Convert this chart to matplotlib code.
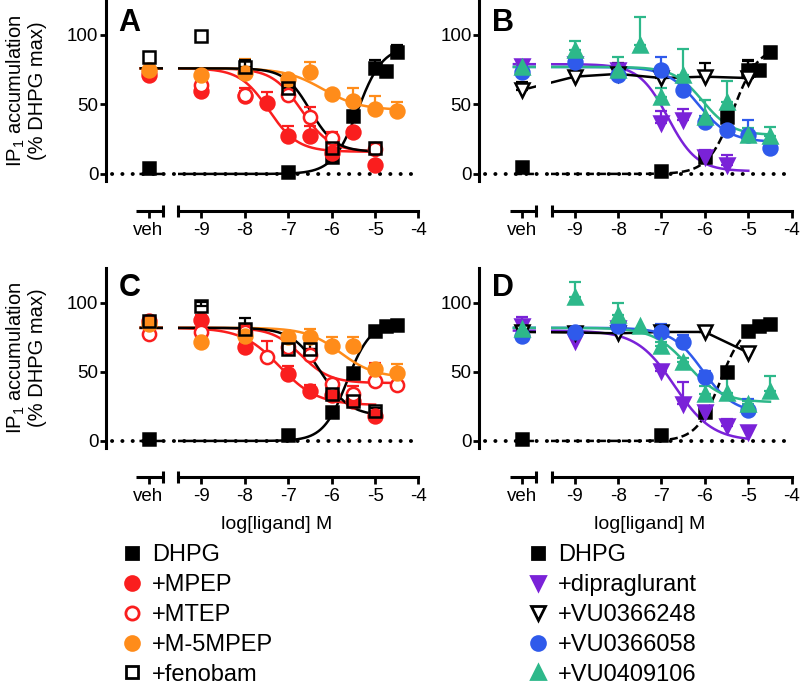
import numpy as np
import matplotlib

matplotlib.use("Agg")
import matplotlib.pyplot as plt
from matplotlib import font_manager
from matplotlib.lines import Line2D
from matplotlib.path import Path

nan = np.nan

# x categories: vehicle first, then log[ligand] (M)
DOSES = ["veh", -9, -8, -7.5, -7, -6.5, -6, -5.5, -5, -4.75, -4.5]
XTICKS = [-9, -8, -7, -6, -5, -4]
YTICKS = [0, 50, 100]

# ---- panel A : values, upper error, fit = [bottom, top, logEC50, hill, last dose]
A_DHPG = [4, nan, nan, nan, 1.5, nan, 12, 42, 76, 74, 88]
A_DHPG_ERR = [0, 0, 0, 0, 0, 0, 2, 3, 6, 0, 5]
A_DHPG_FIT = [0, 92, -5.4, 1.5, -4.5]
A_MPEP = [71, 60, 56, 51, 27, 27, 15, 30, 6.5, nan, nan]
A_MPEP_ERR = [3, 3, 6, 8, 7.5, 7.5, 3, 3, 0, 0, 0]
A_MPEP_FIT = [16, 76, -7.45, -1.3, -5]
A_MTEP = [73, 64, 57, nan, 57, 41, 26, nan, 18, nan, nan]
A_MTEP_ERR = [2, 2, 3, 0, 3, 7, 4, 0, 3, 0, 0]
A_MTEP_FIT = [16, 76, -6.7, -1.3, -5]
A_M5MPEP = [75, 71, 72.5, nan, 68, 73.5, 57.5, 52.5, 47, nan, 45]
A_M5MPEP_ERR = [2, 2, 10, 0, 3, 7, 2, 9, 9, 0, 7]
A_M5MPEP_FIT = [46, 76, -6.2, -1.0, -4.5]
A_FENO = [84, 99, 77, nan, 62, nan, 19, nan, 19, nan, nan]
A_FENO_ERR = [0, 0, 5, 0, 9, 0, 5, 0, 3, 0, 0]
A_FENO_FIT = [16, 76, -6.5, -1.5, -5]

# ---- panel B
B_DHPG = [5, nan, nan, nan, 2.4, nan, 12.5, 41, 75, 75, 87.5]
B_DHPG_ERR = [0, 0, 0, 0, 0, 0, 3, 4, 6, 0, 4]
B_DHPG_FIT = [0, 92, -5.35, 1.5, -4.5]
B_DIPRA = [78, 79, 75, nan, 36.5, 39, 12.5, 6.5, nan, nan, nan]
B_DIPRA_ERR = [1, 0, 0, 0, 8.5, 8, 4.5, 7.5, 0, 0, 0]
B_DIPRA_FIT = [2, 79, -6.85, -1.3, -5]
B_VU248 = [60.4, 70, 72, nan, 69, nan, 70, nan, 69, nan, nan]
B_VU248_ERR = [5.6, 0, 8, 0, 7, 0, 10, 0, 13, 0, 0]
B_VU058 = [73.6, 80.8, 71, nan, 74.8, 60.4, 37.6, 31.7, 28, nan, 18.5]
B_VU058_ERR = [3, 4, 2, 0, 9, 6, 4, 5, 11, 0, 0]
B_VU058_FIT = [23, 77, -6.15, -1.2, -4.5]
B_VU106 = [77, 89, 75, 93, 55.6, 71, 41, 52, 28, nan, 27]
B_VU106_ERR = [2, 7, 9, 20, 6, 19, 12, 15, 5, 0, 7]
B_VU106_FIT = [28, 77, -6.05, -1.3, -4.5]

# ---- panel C
C_DHPG = [1.4, nan, nan, nan, 4, nan, 21, 49, 80, 83, 84]
C_DHPG_ERR = [0, 0, 0, 0, 0, 0, 0, 3, 2, 0, 0]
C_DHPG_FIT = [0, 86, -5.65, 1.6, -4.5]
C_MPEP = [87, 88, 68, nan, 48.5, 36.5, 33, 29, 18, nan, nan]
C_MPEP_ERR = [2, 3, 3, 0, 6, 4, 3, 3, 2, 0, 0]
C_MPEP_FIT = [26, 82, -7.2, -1.0, -5]
C_MTEP = [77.5, 78.7, 78.7, 60.6, 68, 62, 41, 34, 43.7, nan, 40.6]
C_MTEP_ERR = [3, 3, 5, 12, 4, 5, 3, 6, 13, 0, 2]
C_MTEP_FIT = [42, 82, -6.7, -1.3, -4.5]
C_M5MPEP = [85, 71.5, 76, nan, 75, 75, 69, 69, 52, nan, 49]
C_M5MPEP_ERR = [2, 3, 3, 0, 3, 6, 6, 6, 3, 0, 7]
C_M5MPEP_FIT = [46, 82, -5.8, -1.1, -4.5]
C_FENO = [87, 98, 81, nan, 67, 67, 34, 29, 22, nan, nan]
C_FENO_ERR = [3, 3, 8, 0, 11, 4, 3, 3, 2, 0, 0]
C_FENO_FIT = [18, 82, -6.25, -1.3, -5]

# ---- panel D
D_DHPG = [1.4, nan, nan, nan, 4.3, nan, 21, 50, 80, 83.6, 85]
D_DHPG_ERR = [0, 0, 0, 0, 0, 0, 0, 3, 2, 0, 0]
D_DHPG_FIT = [0, 86, -5.65, 1.6, -4.5]
D_DIPRA = [83, 72.7, 82, nan, 51, 26.8, 20.8, 11, 6.3, nan, nan]
D_DIPRA_ERR = [7, 0, 0, 0, 2, 16, 2, 5, 0, 0, 0]
D_DIPRA_FIT = [0, 80, -6.7, -1.0, -5]
D_VU248 = [79, 78.6, 78, nan, 79, nan, 79, nan, 64, nan, nan]
D_VU248_ERR = [3, 0, 0, 0, 3, 0, 3, 0, 0, 0, 0]
D_VU058 = [76.3, 78.7, 83.6, nan, 78.7, 71.5, 46, nan, 22.7, nan, nan]
D_VU058_ERR = [6, 0, 3, 0, 6, 5, 5, 0, 8, 0, 0]
D_VU058_FIT = [20, 82, -6.05, -1.2, -5]
D_VU106 = [81, 104, 91, 83.6, 69, 57, 34, 35, 26.8, nan, 36.5]
D_VU106_ERR = [7, 11, 9, 0, 3, 3, 6, 12, 2, 0, 10.5]
D_VU106_FIT = [28, 82, -6.4, -1.1, -4.5]

LEFT_NAMES = ["DHPG", "+MPEP", "+MTEP", "+M-5MPEP", "+fenobam"]
RIGHT_NAMES = ["DHPG", "+dipraglurant", "+VU0366248", "+VU0366058", "+VU0409106"]

RED = "#FA1E1E"
ORANGE = "#FF8C1A"
PURPLE = "#7A22D8"
BLUE = "#2F5AEB"
GREEN = "#2DB88A"

STYLE = {
    "DHPG": dict(color="black", marker="s", ms=8.5, mfc="black"),
    "+MPEP": dict(color=RED, marker="o", ms=10, mfc=RED),
    "+MTEP": dict(color=RED, marker="o", ms=9.5, mfc="white"),
    "+M-5MPEP": dict(color=ORANGE, marker="o", ms=10, mfc=ORANGE),
    "+fenobam": dict(color="black", marker="s", ms=9, mfc="none"),
    "+dipraglurant": dict(color=PURPLE, marker="v", ms=10, mfc=PURPLE),
    "+VU0366248": dict(color="black", marker="v", ms=10, mfc="white"),
    "+VU0366058": dict(color=BLUE, marker="o", ms=10, mfc=BLUE),
    "+VU0409106": dict(color=GREEN, marker="^", ms=10, mfc=GREEN),
}

# layout
VEH_POS = -10.22
XLIM = (-11.2, -4.0)
YLIM = (-5, 125)
CURVE_START = -10.4
GAP = (-9.88, -9.55)
AX_W = 0.3906
LEFTS = [0.1325, 0.599]
ROWS = [(0.7355, 0.2642, 0.6915, 0.957), (0.3452, 0.2623, 0.3026, 0.975)]
LW = 1.8

names = {f.name for f in font_manager.fontManager.ttflist}
plt.rcParams["font.family"] = ["Liberation Sans", "DejaVu Sans"]
plt.rcParams["mathtext.fontset"] = "custom"
plt.rcParams["mathtext.rm"] = "Liberation Sans"
plt.rcParams["mathtext.default"] = "regular"
if "Liberation Sans Narrow" in names:
    XLABEL_FONT = dict(family="Liberation Sans Narrow", size=16.5)
else:
    XLABEL_FONT = dict(family="Liberation Sans", size=14)


def sigmoid(x, bottom, top, log_ec50, hill):
    return bottom + (top - bottom) / (1 + 10 ** ((log_ec50 - x) * hill))


def gap_clip_path():
    """Two rectangles either side of the axis break."""
    lo, hi = GAP
    verts = [(-20, -50), (lo, -50), (lo, 300), (-20, 300), (-20, -50),
             (hi, -50), (0, -50), (0, 300), (hi, 300), (hi, -50)]
    codes = [Path.MOVETO, Path.LINETO, Path.LINETO, Path.LINETO, Path.CLOSEPOLY] * 2
    return Path(verts, codes)


def draw_series(ax, name, values, errors, fit, dashed=False):
    st = STYLE[name]
    xs = np.array([VEH_POS] + DOSES[1:], dtype=float)
    vals = np.array(values, dtype=float)
    errs = np.array(errors, dtype=float)
    ok = ~np.isnan(vals)

    if fit is not None:
        xc = np.linspace(CURVE_START, fit[4], 400)
        (line,) = ax.plot(xc, sigmoid(xc, *fit[:4]), color=st["color"], lw=LW, zorder=2)
    else:
        (line,) = ax.plot(xs[ok], vals[ok], color=st["color"], lw=LW, zorder=2)
    if dashed:
        line.set_linestyle((0, (3.2, 1.6)))
    line.set_clip_path(gap_clip_path(), ax.transData)

    has_err = ok & (errs > 0)
    if has_err.any():
        ax.errorbar(xs[has_err], vals[has_err],
                    yerr=[np.zeros(has_err.sum()), errs[has_err]],
                    fmt="none", ecolor=st["color"], elinewidth=1.6,
                    capsize=4.6, capthick=1.6, zorder=4)
    ax.plot(xs[ok], vals[ok], ls="none", marker=st["marker"], ms=st["ms"],
            mfc=st["mfc"], mec=st["color"], mew=1.8, zorder=5)


def setup_axes(ax, letter, letter_y, ylabel):
    ax.set_xlim(*XLIM)
    ax.set_ylim(*YLIM)
    for side in ["top", "right", "bottom"]:
        ax.spines[side].set_visible(False)
    ax.spines["left"].set_linewidth(2.2)
    ax.set_xticks([])
    ax.set_yticks(YTICKS, [str(t) for t in YTICKS])
    ax.tick_params(axis="y", length=4.5, width=2, labelsize=13.5, pad=1)
    ax.axhline(0, xmin=0.02, xmax=0.99, color="black", lw=2.8,
               ls=(0, (0.05, 2.6)), dash_capstyle="round", zorder=3)
    ax.text(0.04, letter_y, letter, transform=ax.transAxes, fontsize=22,
            fontweight="bold", va="top", ha="left")
    if ylabel:
        ax.set_ylabel("IP$_1$ accumulation\n(% DHPG max)", fontsize=14.5,
                      linespacing=1.05)
        ax.yaxis.set_label_coords(-0.19, 0.5)


def draw_xaxis(fig, left, y):
    xa = fig.add_axes([left, y, AX_W, 0.001])
    xa.set_xlim(*XLIM)
    xa.set_ylim(0, 1)
    xa.patch.set_visible(False)
    for side in ["top", "right", "left"]:
        xa.spines[side].set_visible(False)
    xa.spines["bottom"].set_bounds(GAP[1] + 0.02, -4)
    xa.spines["bottom"].set_linewidth(2.2)
    xa.set_yticks([])
    xa.set_xticks([VEH_POS] + XTICKS, ["veh"] + [str(t) for t in XTICKS])
    xa.tick_params(axis="x", length=5, width=2, labelsize=13.5, pad=3)
    xa.plot([-10.5, GAP[0]], [0, 0], color="black", lw=2.2,
            solid_capstyle="butt", clip_on=False)
    xa.plot([GAP[0], GAP[1] + 0.02], [0, 0], ls="none", marker="|", ms=8,
            mew=2.2, color="black", clip_on=False)
    return xa


panels = [
    ("A", [("DHPG", A_DHPG, A_DHPG_ERR, A_DHPG_FIT),
           ("+MPEP", A_MPEP, A_MPEP_ERR, A_MPEP_FIT),
           ("+MTEP", A_MTEP, A_MTEP_ERR, A_MTEP_FIT),
           ("+M-5MPEP", A_M5MPEP, A_M5MPEP_ERR, A_M5MPEP_FIT),
           ("+fenobam", A_FENO, A_FENO_ERR, A_FENO_FIT)], False),
    ("B", [("DHPG", B_DHPG, B_DHPG_ERR, B_DHPG_FIT),
           ("+dipraglurant", B_DIPRA, B_DIPRA_ERR, B_DIPRA_FIT),
           ("+VU0366248", B_VU248, B_VU248_ERR, None),
           ("+VU0366058", B_VU058, B_VU058_ERR, B_VU058_FIT),
           ("+VU0409106", B_VU106, B_VU106_ERR, B_VU106_FIT)], True),
    ("C", [("DHPG", C_DHPG, C_DHPG_ERR, C_DHPG_FIT),
           ("+MPEP", C_MPEP, C_MPEP_ERR, C_MPEP_FIT),
           ("+MTEP", C_MTEP, C_MTEP_ERR, C_MTEP_FIT),
           ("+M-5MPEP", C_M5MPEP, C_M5MPEP_ERR, C_M5MPEP_FIT),
           ("+fenobam", C_FENO, C_FENO_ERR, C_FENO_FIT)], False),
    ("D", [("DHPG", D_DHPG, D_DHPG_ERR, D_DHPG_FIT),
           ("+dipraglurant", D_DIPRA, D_DIPRA_ERR, D_DIPRA_FIT),
           ("+VU0366248", D_VU248, D_VU248_ERR, None),
           ("+VU0366058", D_VU058, D_VU058_ERR, D_VU058_FIT),
           ("+VU0409106", D_VU106, D_VU106_ERR, D_VU106_FIT)], True),
]

fig = plt.figure(figsize=(8, 6.84), dpi=100)

for index, (letter, entries, dashed_dhpg) in enumerate(panels):
    row, col = divmod(index, 2)
    bottom, height, xaxis_y, letter_y = ROWS[row]
    left = LEFTS[col]
    ax = fig.add_axes([left, bottom, AX_W, height])
    setup_axes(ax, letter, letter_y, ylabel=(col == 0))
    for name, values, errors, fit in entries:
        draw_series(ax, name, values, errors, fit,
                    dashed=(dashed_dhpg and name == "DHPG"))
    draw_xaxis(fig, left, xaxis_y)
    if row == 1:
        label_x = left + AX_W * (-7.27 - XLIM[0]) / (XLIM[1] - XLIM[0])
        fig.text(label_x, 0.2325, "log[ligand] M", ha="center", va="center",
                 **XLABEL_FONT)


def legend_handles(series_names):
    handles = []
    for name in series_names:
        st = STYLE[name]
        handles.append(Line2D([], [], ls="none", marker=st["marker"],
                              ms=st["ms"], mfc=st["mfc"], mec=st["color"],
                              mew=2))
    return handles


for legend_x, series_names in [(0.153, LEFT_NAMES), (0.661, RIGHT_NAMES)]:
    fig.legend(legend_handles(series_names), series_names, loc="upper left",
               bbox_to_anchor=(legend_x, 0.204), frameon=False, fontsize=17,
               handlelength=0.8, handletextpad=0.45, labelspacing=0.33,
               borderpad=0, borderaxespad=0)

fig.savefig("out.png", dpi=100)
